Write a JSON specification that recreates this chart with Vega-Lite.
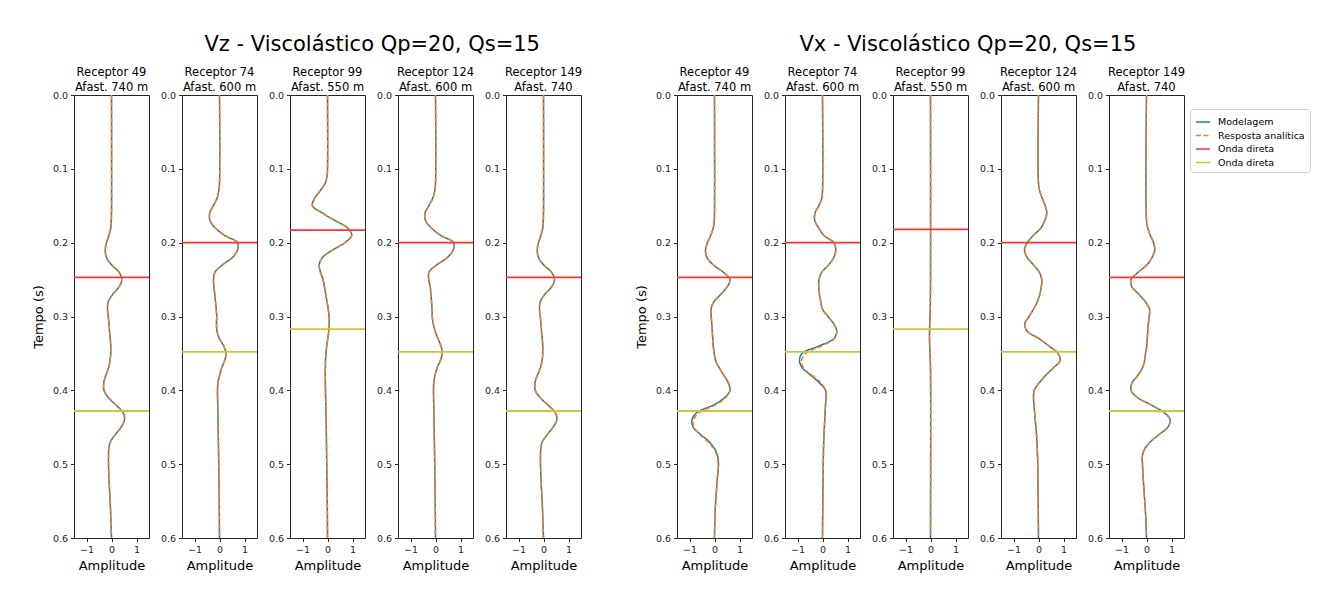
{
"$schema": "https://vega.github.io/schema/vega-lite/v6.json",
"background": "white",
"padding": {"left": 31, "top": 34, "right": 0, "bottom": 0},
"config": {
 "font": "DejaVu Sans",
 "view": {"stroke": "#262626", "strokeWidth": 1},
 "axis": {"grid": false, "domain": false, "labelFontSize": 9.5, "labelColor": "#262626", "tickColor": "#262626", "tickSize": 3.5, "labelPadding": 3, "titleFontSize": 13, "titleFontWeight": "normal", "titleColor": "#000", "labelFont": "DejaVu Sans", "titleFont": "DejaVu Sans", "labelFlush": false, "labelOverlap": false},
 "axisX": {"titlePadding": 5},
 "axisY": {"titlePadding": 7},
 "title": {"font": "DejaVu Sans", "fontSize": 11.5, "fontWeight": "normal", "color": "#000", "offset": -3, "lineHeight": 15},
 "legend": {"title": null, "symbolType": "stroke", "symbolSize": 200, "symbolStrokeWidth": 1.5, "labelFontSize": 9.5, "labelFont": "DejaVu Sans", "labelColor": "#000", "strokeColor": "#d0d0d0", "padding": 5, "cornerRadius": 3, "rowPadding": 0.5, "labelOffset": 7, "fillColor": "white"}
},
"datasets": {
 "ln": [
  {"f":"Vz","p":1,"t":0.247,"k":"p"},{"f":"Vz","p":1,"t":0.428,"k":"s"},
  {"f":"Vz","p":2,"t":0.2,"k":"p"},{"f":"Vz","p":2,"t":0.348,"k":"s"},
  {"f":"Vz","p":3,"t":0.183,"k":"p"},{"f":"Vz","p":3,"t":0.317,"k":"s"},
  {"f":"Vz","p":4,"t":0.2,"k":"p"},{"f":"Vz","p":4,"t":0.348,"k":"s"},
  {"f":"Vz","p":5,"t":0.247,"k":"p"},{"f":"Vz","p":5,"t":0.428,"k":"s"},
  {"f":"Vx","p":1,"t":0.247,"k":"p"},{"f":"Vx","p":1,"t":0.428,"k":"s"},
  {"f":"Vx","p":2,"t":0.2,"k":"p"},{"f":"Vx","p":2,"t":0.348,"k":"s"},
  {"f":"Vx","p":3,"t":0.182,"k":"p"},{"f":"Vx","p":3,"t":0.317,"k":"s"},
  {"f":"Vx","p":4,"t":0.2,"k":"p"},{"f":"Vx","p":4,"t":0.348,"k":"s"},
  {"f":"Vx","p":5,"t":0.247,"k":"p"},{"f":"Vx","p":5,"t":0.428,"k":"s"}
 ],
 "tr": [
  {"f":"Vz","p":1,"t":0,"m":0,"a":0},{"f":"Vz","p":1,"t":0.16,"m":0,"a":0},{"f":"Vz","p":1,"t":0.17,"m":-0.01,"a":-0.01},{"f":"Vz","p":1,"t":0.18,"m":-0.03,"a":-0.03},{"f":"Vz","p":1,"t":0.19,"m":-0.1,"a":-0.1},{"f":"Vz","p":1,"t":0.2,"m":-0.2,"a":-0.2},{"f":"Vz","p":1,"t":0.21,"m":-0.25,"a":-0.25},{"f":"Vz","p":1,"t":0.22,"m":-0.2,"a":-0.2},{"f":"Vz","p":1,"t":0.23,"m":0,"a":0},{"f":"Vz","p":1,"t":0.24,"m":0.3,"a":0.3},{"f":"Vz","p":1,"t":0.25,"m":0.41,"a":0.41},{"f":"Vz","p":1,"t":0.26,"m":0.3,"a":0.3},{"f":"Vz","p":1,"t":0.27,"m":0.05,"a":0.05},{"f":"Vz","p":1,"t":0.28,"m":-0.13,"a":-0.13},{"f":"Vz","p":1,"t":0.29,"m":-0.16,"a":-0.16},{"f":"Vz","p":1,"t":0.3,"m":-0.13,"a":-0.13},{"f":"Vz","p":1,"t":0.31,"m":-0.1,"a":-0.1},{"f":"Vz","p":1,"t":0.32,"m":-0.08,"a":-0.08},{"f":"Vz","p":1,"t":0.33,"m":-0.05,"a":-0.05},{"f":"Vz","p":1,"t":0.34,"m":-0.03,"a":-0.03},{"f":"Vz","p":1,"t":0.35,"m":-0.03,"a":-0.03},{"f":"Vz","p":1,"t":0.36,"m":-0.06,"a":-0.06},{"f":"Vz","p":1,"t":0.37,"m":-0.12,"a":-0.12},{"f":"Vz","p":1,"t":0.38,"m":-0.23,"a":-0.23},{"f":"Vz","p":1,"t":0.39,"m":-0.31,"a":-0.31},{"f":"Vz","p":1,"t":0.4,"m":-0.3,"a":-0.3},{"f":"Vz","p":1,"t":0.41,"m":-0.12,"a":-0.12},{"f":"Vz","p":1,"t":0.42,"m":0.18,"a":0.18},{"f":"Vz","p":1,"t":0.43,"m":0.46,"a":0.46},{"f":"Vz","p":1,"t":0.44,"m":0.52,"a":0.52},{"f":"Vz","p":1,"t":0.45,"m":0.38,"a":0.38},{"f":"Vz","p":1,"t":0.46,"m":0.15,"a":0.15},{"f":"Vz","p":1,"t":0.47,"m":-0.05,"a":-0.05},{"f":"Vz","p":1,"t":0.48,"m":-0.11,"a":-0.11},{"f":"Vz","p":1,"t":0.49,"m":-0.12,"a":-0.12},{"f":"Vz","p":1,"t":0.5,"m":-0.12,"a":-0.12},{"f":"Vz","p":1,"t":0.52,"m":-0.1,"a":-0.1},{"f":"Vz","p":1,"t":0.54,"m":-0.07,"a":-0.07},{"f":"Vz","p":1,"t":0.56,"m":-0.04,"a":-0.04},{"f":"Vz","p":1,"t":0.58,"m":-0.02,"a":-0.02},{"f":"Vz","p":1,"t":0.6,"m":0,"a":0},

  {"f":"Vz","p":5,"t":0,"m":0,"a":0},{"f":"Vz","p":5,"t":0.16,"m":0,"a":0},{"f":"Vz","p":5,"t":0.17,"m":-0.01,"a":-0.01},{"f":"Vz","p":5,"t":0.18,"m":-0.03,"a":-0.03},{"f":"Vz","p":5,"t":0.19,"m":-0.1,"a":-0.1},{"f":"Vz","p":5,"t":0.2,"m":-0.2,"a":-0.2},{"f":"Vz","p":5,"t":0.21,"m":-0.25,"a":-0.25},{"f":"Vz","p":5,"t":0.22,"m":-0.2,"a":-0.2},{"f":"Vz","p":5,"t":0.23,"m":0,"a":0},{"f":"Vz","p":5,"t":0.24,"m":0.32,"a":0.32},{"f":"Vz","p":5,"t":0.25,"m":0.44,"a":0.44},{"f":"Vz","p":5,"t":0.26,"m":0.32,"a":0.32},{"f":"Vz","p":5,"t":0.27,"m":0.05,"a":0.05},{"f":"Vz","p":5,"t":0.28,"m":-0.13,"a":-0.13},{"f":"Vz","p":5,"t":0.29,"m":-0.16,"a":-0.16},{"f":"Vz","p":5,"t":0.3,"m":-0.13,"a":-0.13},{"f":"Vz","p":5,"t":0.31,"m":-0.1,"a":-0.1},{"f":"Vz","p":5,"t":0.32,"m":-0.08,"a":-0.08},{"f":"Vz","p":5,"t":0.33,"m":-0.05,"a":-0.05},{"f":"Vz","p":5,"t":0.34,"m":-0.03,"a":-0.03},{"f":"Vz","p":5,"t":0.35,"m":-0.03,"a":-0.03},{"f":"Vz","p":5,"t":0.36,"m":-0.06,"a":-0.06},{"f":"Vz","p":5,"t":0.37,"m":-0.13,"a":-0.13},{"f":"Vz","p":5,"t":0.38,"m":-0.25,"a":-0.25},{"f":"Vz","p":5,"t":0.39,"m":-0.34,"a":-0.34},{"f":"Vz","p":5,"t":0.4,"m":-0.33,"a":-0.33},{"f":"Vz","p":5,"t":0.41,"m":-0.13,"a":-0.13},{"f":"Vz","p":5,"t":0.42,"m":0.18,"a":0.18},{"f":"Vz","p":5,"t":0.43,"m":0.47,"a":0.47},{"f":"Vz","p":5,"t":0.44,"m":0.53,"a":0.53},{"f":"Vz","p":5,"t":0.45,"m":0.38,"a":0.38},{"f":"Vz","p":5,"t":0.46,"m":0.15,"a":0.15},{"f":"Vz","p":5,"t":0.47,"m":-0.05,"a":-0.05},{"f":"Vz","p":5,"t":0.48,"m":-0.11,"a":-0.11},{"f":"Vz","p":5,"t":0.49,"m":-0.12,"a":-0.12},{"f":"Vz","p":5,"t":0.5,"m":-0.12,"a":-0.12},{"f":"Vz","p":5,"t":0.52,"m":-0.1,"a":-0.1},{"f":"Vz","p":5,"t":0.54,"m":-0.07,"a":-0.07},{"f":"Vz","p":5,"t":0.56,"m":-0.04,"a":-0.04},{"f":"Vz","p":5,"t":0.58,"m":-0.02,"a":-0.02},{"f":"Vz","p":5,"t":0.6,"m":0,"a":0},

  {"f":"Vz","p":2,"t":0,"m":0,"a":0},{"f":"Vz","p":2,"t":0.12,"m":0,"a":0},{"f":"Vz","p":2,"t":0.13,"m":-0.03,"a":-0.03},{"f":"Vz","p":2,"t":0.14,"m":-0.1,"a":-0.1},{"f":"Vz","p":2,"t":0.15,"m":-0.25,"a":-0.25},{"f":"Vz","p":2,"t":0.16,"m":-0.39,"a":-0.39},{"f":"Vz","p":2,"t":0.17,"m":-0.38,"a":-0.38},{"f":"Vz","p":2,"t":0.18,"m":-0.17,"a":-0.17},{"f":"Vz","p":2,"t":0.19,"m":0.2,"a":0.2},{"f":"Vz","p":2,"t":0.2,"m":0.72,"a":0.72},{"f":"Vz","p":2,"t":0.21,"m":0.72,"a":0.72},{"f":"Vz","p":2,"t":0.22,"m":0.52,"a":0.52},{"f":"Vz","p":2,"t":0.23,"m":0.12,"a":0.12},{"f":"Vz","p":2,"t":0.24,"m":-0.18,"a":-0.18},{"f":"Vz","p":2,"t":0.25,"m":-0.24,"a":-0.24},{"f":"Vz","p":2,"t":0.26,"m":-0.22,"a":-0.22},{"f":"Vz","p":2,"t":0.27,"m":-0.19,"a":-0.19},{"f":"Vz","p":2,"t":0.28,"m":-0.16,"a":-0.16},{"f":"Vz","p":2,"t":0.29,"m":-0.13,"a":-0.13},{"f":"Vz","p":2,"t":0.3,"m":-0.11,"a":-0.11},{"f":"Vz","p":2,"t":0.31,"m":-0.12,"a":-0.12},{"f":"Vz","p":2,"t":0.32,"m":-0.1,"a":-0.1},{"f":"Vz","p":2,"t":0.33,"m":0,"a":0},{"f":"Vz","p":2,"t":0.34,"m":0.17,"a":0.17},{"f":"Vz","p":2,"t":0.35,"m":0.26,"a":0.26},{"f":"Vz","p":2,"t":0.36,"m":0.2,"a":0.2},{"f":"Vz","p":2,"t":0.37,"m":0.08,"a":0.08},{"f":"Vz","p":2,"t":0.38,"m":0,"a":0},{"f":"Vz","p":2,"t":0.39,"m":-0.06,"a":-0.06},{"f":"Vz","p":2,"t":0.4,"m":-0.08,"a":-0.08},{"f":"Vz","p":2,"t":0.42,"m":-0.07,"a":-0.07},{"f":"Vz","p":2,"t":0.44,"m":-0.06,"a":-0.06},{"f":"Vz","p":2,"t":0.46,"m":-0.05,"a":-0.05},{"f":"Vz","p":2,"t":0.48,"m":-0.04,"a":-0.04},{"f":"Vz","p":2,"t":0.5,"m":-0.03,"a":-0.03},{"f":"Vz","p":2,"t":0.53,"m":-0.02,"a":-0.02},{"f":"Vz","p":2,"t":0.56,"m":-0.01,"a":-0.01},{"f":"Vz","p":2,"t":0.6,"m":0,"a":0},

  {"f":"Vz","p":4,"t":0,"m":0,"a":0},{"f":"Vz","p":4,"t":0.12,"m":0,"a":0},{"f":"Vz","p":4,"t":0.13,"m":-0.03,"a":-0.03},{"f":"Vz","p":4,"t":0.14,"m":-0.11,"a":-0.11},{"f":"Vz","p":4,"t":0.15,"m":-0.27,"a":-0.27},{"f":"Vz","p":4,"t":0.16,"m":-0.42,"a":-0.42},{"f":"Vz","p":4,"t":0.17,"m":-0.4,"a":-0.4},{"f":"Vz","p":4,"t":0.18,"m":-0.17,"a":-0.17},{"f":"Vz","p":4,"t":0.19,"m":0.2,"a":0.2},{"f":"Vz","p":4,"t":0.2,"m":0.72,"a":0.72},{"f":"Vz","p":4,"t":0.21,"m":0.7,"a":0.7},{"f":"Vz","p":4,"t":0.22,"m":0.48,"a":0.48},{"f":"Vz","p":4,"t":0.23,"m":0.05,"a":0.05},{"f":"Vz","p":4,"t":0.24,"m":-0.26,"a":-0.26},{"f":"Vz","p":4,"t":0.25,"m":-0.27,"a":-0.27},{"f":"Vz","p":4,"t":0.26,"m":-0.21,"a":-0.21},{"f":"Vz","p":4,"t":0.27,"m":-0.18,"a":-0.18},{"f":"Vz","p":4,"t":0.28,"m":-0.16,"a":-0.16},{"f":"Vz","p":4,"t":0.29,"m":-0.14,"a":-0.14},{"f":"Vz","p":4,"t":0.3,"m":-0.13,"a":-0.13},{"f":"Vz","p":4,"t":0.31,"m":-0.09,"a":-0.09},{"f":"Vz","p":4,"t":0.32,"m":-0.01,"a":-0.01},{"f":"Vz","p":4,"t":0.33,"m":0.1,"a":0.1},{"f":"Vz","p":4,"t":0.34,"m":0.22,"a":0.22},{"f":"Vz","p":4,"t":0.35,"m":0.27,"a":0.27},{"f":"Vz","p":4,"t":0.36,"m":0.19,"a":0.19},{"f":"Vz","p":4,"t":0.37,"m":0.06,"a":0.06},{"f":"Vz","p":4,"t":0.38,"m":-0.02,"a":-0.02},{"f":"Vz","p":4,"t":0.39,"m":-0.07,"a":-0.07},{"f":"Vz","p":4,"t":0.4,"m":-0.08,"a":-0.08},{"f":"Vz","p":4,"t":0.42,"m":-0.07,"a":-0.07},{"f":"Vz","p":4,"t":0.44,"m":-0.06,"a":-0.06},{"f":"Vz","p":4,"t":0.46,"m":-0.05,"a":-0.05},{"f":"Vz","p":4,"t":0.48,"m":-0.04,"a":-0.04},{"f":"Vz","p":4,"t":0.5,"m":-0.03,"a":-0.03},{"f":"Vz","p":4,"t":0.53,"m":-0.02,"a":-0.02},{"f":"Vz","p":4,"t":0.56,"m":-0.01,"a":-0.01},{"f":"Vz","p":4,"t":0.6,"m":0,"a":0},

  {"f":"Vz","p":3,"t":0,"m":0,"a":0},{"f":"Vz","p":3,"t":0.1,"m":0,"a":0},{"f":"Vz","p":3,"t":0.11,"m":-0.02,"a":-0.02},{"f":"Vz","p":3,"t":0.12,"m":-0.1,"a":-0.1},{"f":"Vz","p":3,"t":0.13,"m":-0.3,"a":-0.3},{"f":"Vz","p":3,"t":0.14,"m":-0.52,"a":-0.52},{"f":"Vz","p":3,"t":0.15,"m":-0.6,"a":-0.6},{"f":"Vz","p":3,"t":0.16,"m":-0.2,"a":-0.2},{"f":"Vz","p":3,"t":0.17,"m":0.3,"a":0.3},{"f":"Vz","p":3,"t":0.18,"m":0.8,"a":0.8},{"f":"Vz","p":3,"t":0.19,"m":0.97,"a":0.97},{"f":"Vz","p":3,"t":0.2,"m":0.7,"a":0.7},{"f":"Vz","p":3,"t":0.21,"m":0.2,"a":0.2},{"f":"Vz","p":3,"t":0.22,"m":-0.2,"a":-0.2},{"f":"Vz","p":3,"t":0.23,"m":-0.33,"a":-0.33},{"f":"Vz","p":3,"t":0.24,"m":-0.28,"a":-0.28},{"f":"Vz","p":3,"t":0.25,"m":-0.18,"a":-0.18},{"f":"Vz","p":3,"t":0.26,"m":-0.12,"a":-0.12},{"f":"Vz","p":3,"t":0.27,"m":-0.07,"a":-0.07},{"f":"Vz","p":3,"t":0.28,"m":-0.02,"a":-0.02},{"f":"Vz","p":3,"t":0.29,"m":0.03,"a":0.03},{"f":"Vz","p":3,"t":0.3,"m":0.06,"a":0.06},{"f":"Vz","p":3,"t":0.31,"m":0.07,"a":0.07},{"f":"Vz","p":3,"t":0.32,"m":0.05,"a":0.05},{"f":"Vz","p":3,"t":0.33,"m":0.01,"a":0.01},{"f":"Vz","p":3,"t":0.34,"m":-0.03,"a":-0.03},{"f":"Vz","p":3,"t":0.35,"m":-0.06,"a":-0.06},{"f":"Vz","p":3,"t":0.36,"m":-0.08,"a":-0.08},{"f":"Vz","p":3,"t":0.38,"m":-0.09,"a":-0.09},{"f":"Vz","p":3,"t":0.4,"m":-0.08,"a":-0.08},{"f":"Vz","p":3,"t":0.45,"m":-0.05,"a":-0.05},{"f":"Vz","p":3,"t":0.5,"m":-0.03,"a":-0.03},{"f":"Vz","p":3,"t":0.55,"m":-0.01,"a":-0.01},{"f":"Vz","p":3,"t":0.6,"m":0,"a":0},

  {"f":"Vx","p":1,"t":0,"m":0,"a":0},{"f":"Vx","p":1,"t":0.16,"m":0,"a":0},{"f":"Vx","p":1,"t":0.17,"m":-0.01,"a":-0.01},{"f":"Vx","p":1,"t":0.18,"m":-0.05,"a":-0.05},{"f":"Vx","p":1,"t":0.19,"m":-0.15,"a":-0.15},{"f":"Vx","p":1,"t":0.2,"m":-0.28,"a":-0.28},{"f":"Vx","p":1,"t":0.21,"m":-0.36,"a":-0.36},{"f":"Vx","p":1,"t":0.22,"m":-0.3,"a":-0.3},{"f":"Vx","p":1,"t":0.23,"m":-0.05,"a":-0.05},{"f":"Vx","p":1,"t":0.24,"m":0.35,"a":0.35},{"f":"Vx","p":1,"t":0.25,"m":0.62,"a":0.62},{"f":"Vx","p":1,"t":0.26,"m":0.5,"a":0.5},{"f":"Vx","p":1,"t":0.27,"m":0.25,"a":0.25},{"f":"Vx","p":1,"t":0.28,"m":-0.02,"a":-0.02},{"f":"Vx","p":1,"t":0.29,"m":-0.14,"a":-0.14},{"f":"Vx","p":1,"t":0.3,"m":-0.13,"a":-0.13},{"f":"Vx","p":1,"t":0.31,"m":-0.11,"a":-0.11},{"f":"Vx","p":1,"t":0.32,"m":-0.09,"a":-0.09},{"f":"Vx","p":1,"t":0.33,"m":-0.07,"a":-0.07},{"f":"Vx","p":1,"t":0.34,"m":-0.05,"a":-0.05},{"f":"Vx","p":1,"t":0.35,"m":-0.01,"a":-0.01},{"f":"Vx","p":1,"t":0.36,"m":0.05,"a":0.05},{"f":"Vx","p":1,"t":0.37,"m":0.2,"a":0.2},{"f":"Vx","p":1,"t":0.38,"m":0.38,"a":0.38},{"f":"Vx","p":1,"t":0.39,"m":0.55,"a":0.57},{"f":"Vx","p":1,"t":0.4,"m":0.62,"a":0.62},{"f":"Vx","p":1,"t":0.41,"m":0.4,"a":0.44},{"f":"Vx","p":1,"t":0.42,"m":-0.05,"a":0.03},{"f":"Vx","p":1,"t":0.43,"m":-0.7,"a":-0.6},{"f":"Vx","p":1,"t":0.44,"m":-0.9,"a":-0.84},{"f":"Vx","p":1,"t":0.45,"m":-0.85,"a":-0.82},{"f":"Vx","p":1,"t":0.46,"m":-0.55,"a":-0.58},{"f":"Vx","p":1,"t":0.47,"m":-0.2,"a":-0.25},{"f":"Vx","p":1,"t":0.48,"m":0.02,"a":-0.01},{"f":"Vx","p":1,"t":0.49,"m":0.13,"a":0.11},{"f":"Vx","p":1,"t":0.5,"m":0.16,"a":0.15},{"f":"Vx","p":1,"t":0.51,"m":0.14,"a":0.14},{"f":"Vx","p":1,"t":0.52,"m":0.11,"a":0.11},{"f":"Vx","p":1,"t":0.54,"m":0.07,"a":0.07},{"f":"Vx","p":1,"t":0.56,"m":0.03,"a":0.03},{"f":"Vx","p":1,"t":0.58,"m":0.01,"a":0.01},{"f":"Vx","p":1,"t":0.6,"m":0,"a":0},

  {"f":"Vx","p":2,"t":0,"m":0,"a":0},{"f":"Vx","p":2,"t":0.13,"m":0,"a":0},{"f":"Vx","p":2,"t":0.14,"m":-0.03,"a":-0.03},{"f":"Vx","p":2,"t":0.15,"m":-0.15,"a":-0.15},{"f":"Vx","p":2,"t":0.16,"m":-0.3,"a":-0.3},{"f":"Vx","p":2,"t":0.17,"m":-0.31,"a":-0.31},{"f":"Vx","p":2,"t":0.18,"m":-0.15,"a":-0.15},{"f":"Vx","p":2,"t":0.19,"m":0.05,"a":0.05},{"f":"Vx","p":2,"t":0.2,"m":0.45,"a":0.45},{"f":"Vx","p":2,"t":0.21,"m":0.53,"a":0.53},{"f":"Vx","p":2,"t":0.22,"m":0.45,"a":0.45},{"f":"Vx","p":2,"t":0.23,"m":0.25,"a":0.25},{"f":"Vx","p":2,"t":0.24,"m":-0.03,"a":-0.03},{"f":"Vx","p":2,"t":0.25,"m":-0.14,"a":-0.14},{"f":"Vx","p":2,"t":0.26,"m":-0.15,"a":-0.15},{"f":"Vx","p":2,"t":0.27,"m":-0.12,"a":-0.12},{"f":"Vx","p":2,"t":0.28,"m":-0.07,"a":-0.07},{"f":"Vx","p":2,"t":0.29,"m":0,"a":0},{"f":"Vx","p":2,"t":0.3,"m":0.22,"a":0.22},{"f":"Vx","p":2,"t":0.31,"m":0.45,"a":0.45},{"f":"Vx","p":2,"t":0.32,"m":0.57,"a":0.57},{"f":"Vx","p":2,"t":0.33,"m":0.45,"a":0.47},{"f":"Vx","p":2,"t":0.34,"m":-0.15,"a":-0.05},{"f":"Vx","p":2,"t":0.35,"m":-0.82,"a":-0.68},{"f":"Vx","p":2,"t":0.36,"m":-0.92,"a":-0.84},{"f":"Vx","p":2,"t":0.37,"m":-0.8,"a":-0.76},{"f":"Vx","p":2,"t":0.38,"m":-0.45,"a":-0.4},{"f":"Vx","p":2,"t":0.39,"m":-0.12,"a":-0.06},{"f":"Vx","p":2,"t":0.4,"m":0.12,"a":0.13},{"f":"Vx","p":2,"t":0.41,"m":0.14,"a":0.15},{"f":"Vx","p":2,"t":0.42,"m":0.12,"a":0.12},{"f":"Vx","p":2,"t":0.44,"m":0.09,"a":0.09},{"f":"Vx","p":2,"t":0.46,"m":0.06,"a":0.06},{"f":"Vx","p":2,"t":0.48,"m":0.04,"a":0.04},{"f":"Vx","p":2,"t":0.5,"m":0.03,"a":0.03},{"f":"Vx","p":2,"t":0.53,"m":0.02,"a":0.02},{"f":"Vx","p":2,"t":0.56,"m":0.01,"a":0.01},{"f":"Vx","p":2,"t":0.6,"m":0,"a":0},

  {"f":"Vx","p":3,"t":0,"m":0,"a":0},{"f":"Vx","p":3,"t":0.26,"m":0,"a":0},{"f":"Vx","p":3,"t":0.29,"m":-0.01,"a":-0.01},{"f":"Vx","p":3,"t":0.31,"m":-0.03,"a":-0.03},{"f":"Vx","p":3,"t":0.33,"m":-0.04,"a":-0.04},{"f":"Vx","p":3,"t":0.35,"m":-0.02,"a":-0.02},{"f":"Vx","p":3,"t":0.37,"m":0,"a":0},{"f":"Vx","p":3,"t":0.6,"m":0,"a":0},

  {"f":"Vx","p":4,"t":0,"m":0,"a":0},{"f":"Vx","p":4,"t":0.12,"m":0,"a":0},{"f":"Vx","p":4,"t":0.13,"m":0.05,"a":0.05},{"f":"Vx","p":4,"t":0.14,"m":0.15,"a":0.15},{"f":"Vx","p":4,"t":0.15,"m":0.27,"a":0.27},{"f":"Vx","p":4,"t":0.16,"m":0.33,"a":0.33},{"f":"Vx","p":4,"t":0.17,"m":0.25,"a":0.25},{"f":"Vx","p":4,"t":0.18,"m":0.1,"a":0.1},{"f":"Vx","p":4,"t":0.19,"m":-0.2,"a":-0.2},{"f":"Vx","p":4,"t":0.2,"m":-0.45,"a":-0.45},{"f":"Vx","p":4,"t":0.21,"m":-0.56,"a":-0.56},{"f":"Vx","p":4,"t":0.22,"m":-0.45,"a":-0.45},{"f":"Vx","p":4,"t":0.23,"m":-0.2,"a":-0.2},{"f":"Vx","p":4,"t":0.24,"m":0.03,"a":0.03},{"f":"Vx","p":4,"t":0.25,"m":0.13,"a":0.13},{"f":"Vx","p":4,"t":0.26,"m":0.11,"a":0.11},{"f":"Vx","p":4,"t":0.27,"m":0.05,"a":0.05},{"f":"Vx","p":4,"t":0.28,"m":-0.05,"a":-0.05},{"f":"Vx","p":4,"t":0.29,"m":-0.2,"a":-0.2},{"f":"Vx","p":4,"t":0.3,"m":-0.38,"a":-0.38},{"f":"Vx","p":4,"t":0.31,"m":-0.55,"a":-0.55},{"f":"Vx","p":4,"t":0.32,"m":-0.45,"a":-0.45},{"f":"Vx","p":4,"t":0.33,"m":0.02,"a":0.02},{"f":"Vx","p":4,"t":0.34,"m":0.42,"a":0.42},{"f":"Vx","p":4,"t":0.35,"m":0.78,"a":0.78},{"f":"Vx","p":4,"t":0.36,"m":0.86,"a":0.86},{"f":"Vx","p":4,"t":0.37,"m":0.58,"a":0.58},{"f":"Vx","p":4,"t":0.38,"m":0.28,"a":0.28},{"f":"Vx","p":4,"t":0.39,"m":0.02,"a":0.02},{"f":"Vx","p":4,"t":0.4,"m":-0.17,"a":-0.17},{"f":"Vx","p":4,"t":0.41,"m":-0.2,"a":-0.2},{"f":"Vx","p":4,"t":0.42,"m":-0.18,"a":-0.18},{"f":"Vx","p":4,"t":0.44,"m":-0.13,"a":-0.13},{"f":"Vx","p":4,"t":0.46,"m":-0.08,"a":-0.08},{"f":"Vx","p":4,"t":0.48,"m":-0.05,"a":-0.05},{"f":"Vx","p":4,"t":0.5,"m":-0.03,"a":-0.03},{"f":"Vx","p":4,"t":0.53,"m":-0.02,"a":-0.02},{"f":"Vx","p":4,"t":0.56,"m":-0.01,"a":-0.01},{"f":"Vx","p":4,"t":0.6,"m":0,"a":0},

  {"f":"Vx","p":5,"t":0,"m":0,"a":0},{"f":"Vx","p":5,"t":0.17,"m":0,"a":0},{"f":"Vx","p":5,"t":0.18,"m":0.05,"a":0.05},{"f":"Vx","p":5,"t":0.19,"m":0.15,"a":0.15},{"f":"Vx","p":5,"t":0.2,"m":0.28,"a":0.28},{"f":"Vx","p":5,"t":0.21,"m":0.33,"a":0.33},{"f":"Vx","p":5,"t":0.22,"m":0.22,"a":0.22},{"f":"Vx","p":5,"t":0.23,"m":0.02,"a":0.02},{"f":"Vx","p":5,"t":0.24,"m":-0.33,"a":-0.33},{"f":"Vx","p":5,"t":0.25,"m":-0.62,"a":-0.62},{"f":"Vx","p":5,"t":0.26,"m":-0.58,"a":-0.58},{"f":"Vx","p":5,"t":0.27,"m":-0.3,"a":-0.3},{"f":"Vx","p":5,"t":0.28,"m":-0.05,"a":-0.05},{"f":"Vx","p":5,"t":0.29,"m":0.12,"a":0.12},{"f":"Vx","p":5,"t":0.3,"m":0.11,"a":0.11},{"f":"Vx","p":5,"t":0.31,"m":0.07,"a":0.07},{"f":"Vx","p":5,"t":0.32,"m":0.05,"a":0.05},{"f":"Vx","p":5,"t":0.33,"m":0.03,"a":0.03},{"f":"Vx","p":5,"t":0.34,"m":0.01,"a":0.01},{"f":"Vx","p":5,"t":0.35,"m":-0.04,"a":-0.04},{"f":"Vx","p":5,"t":0.36,"m":-0.08,"a":-0.08},{"f":"Vx","p":5,"t":0.37,"m":-0.17,"a":-0.17},{"f":"Vx","p":5,"t":0.38,"m":-0.35,"a":-0.35},{"f":"Vx","p":5,"t":0.39,"m":-0.58,"a":-0.58},{"f":"Vx","p":5,"t":0.4,"m":-0.62,"a":-0.62},{"f":"Vx","p":5,"t":0.41,"m":-0.35,"a":-0.35},{"f":"Vx","p":5,"t":0.42,"m":0.2,"a":0.2},{"f":"Vx","p":5,"t":0.43,"m":0.7,"a":0.7},{"f":"Vx","p":5,"t":0.44,"m":0.95,"a":0.95},{"f":"Vx","p":5,"t":0.45,"m":0.85,"a":0.85},{"f":"Vx","p":5,"t":0.46,"m":0.5,"a":0.5},{"f":"Vx","p":5,"t":0.47,"m":0.15,"a":0.15},{"f":"Vx","p":5,"t":0.48,"m":-0.08,"a":-0.08},{"f":"Vx","p":5,"t":0.49,"m":-0.17,"a":-0.17},{"f":"Vx","p":5,"t":0.5,"m":-0.16,"a":-0.16},{"f":"Vx","p":5,"t":0.52,"m":-0.13,"a":-0.13},{"f":"Vx","p":5,"t":0.54,"m":-0.09,"a":-0.09},{"f":"Vx","p":5,"t":0.56,"m":-0.05,"a":-0.05},{"f":"Vx","p":5,"t":0.58,"m":-0.02,"a":-0.02},{"f":"Vx","p":5,"t":0.6,"m":0,"a":0}
 ]
},
"resolve": {"scale": {"color": "independent", "strokeDash": "independent"}, "legend": {"color": "independent", "strokeDash": "independent"}},
"spacing": 51,
"hconcat": [
 {
  "title": {"text": "Vz - Viscolástico Qp=20, Qs=15", "fontSize": 21, "dx": 65, "offset": 11, "anchor": "middle"},
  "spacing": 8,
  "resolve": {"scale": {"color": "independent", "strokeDash": "independent"}, "legend": {"color": "independent", "strokeDash": "independent"}},
  "hconcat": [
   {"width": 75, "height": 443, "title": {"text": ["Receptor 49", " Afast. 740 m"]},
    "layer": [
     {"data": {"name": "tr"}, "transform": [{"filter": "datum.f=='Vz' && datum.p==1"}, {"fold": ["m", "a"], "as": ["k", "amp"]}],
      "mark": {"type": "line", "strokeWidth": 1.5, "interpolate": "catmull-rom"},
      "encoding": {
       "x": {"field": "amp", "type": "quantitative", "scale": {"domain": [-1.5, 1.5], "nice": false, "zero": false}, "axis": {"values": [-1, 0, 1], "format": "d", "title": "Amplitude"}},
       "y": {"field": "t", "type": "quantitative", "scale": {"domain": [0, 0.6], "reverse": true, "nice": false}, "axis": {"values": [0, 0.1, 0.2, 0.3, 0.4, 0.5, 0.6], "format": ".1f", "title": "Tempo (s)"}},
       "color": {"field": "k", "type": "nominal", "scale": {"domain": ["m", "a", "p", "s"], "range": ["#1f77b4", "#ff7f0e", "#ff3333", "#c8c83c"]}, "legend": null},
       "strokeDash": {"field": "k", "type": "nominal", "scale": {"domain": ["m", "a", "p", "s"], "range": [[1, 0], [5, 2.5], [1, 0], [1, 0]]}, "legend": null},
       "order": {"field": "t", "type": "quantitative"}}},
     {"data": {"name": "ln"}, "transform": [{"filter": "datum.f=='Vz' && datum.p==1"}],
      "mark": {"type": "rule", "strokeWidth": 1.8},
      "encoding": {"y": {"field": "t", "type": "quantitative"}, "color": {"field": "k", "type": "nominal", "legend": null}}}
    ]},
   {"width": 75, "height": 443, "title": {"text": ["Receptor 74", " Afast. 600 m"]},
    "layer": [
     {"data": {"name": "tr"}, "transform": [{"filter": "datum.f=='Vz' && datum.p==2"}, {"fold": ["m", "a"], "as": ["k", "amp"]}],
      "mark": {"type": "line", "strokeWidth": 1.5, "interpolate": "catmull-rom"},
      "encoding": {
       "x": {"field": "amp", "type": "quantitative", "scale": {"domain": [-1.5, 1.5], "nice": false, "zero": false}, "axis": {"values": [-1, 0, 1], "format": "d", "title": "Amplitude"}},
       "y": {"field": "t", "type": "quantitative", "scale": {"domain": [0, 0.6], "reverse": true, "nice": false}, "axis": {"values": [0, 0.1, 0.2, 0.3, 0.4, 0.5, 0.6], "format": ".1f", "title": null}},
       "color": {"field": "k", "type": "nominal", "scale": {"domain": ["m", "a", "p", "s"], "range": ["#1f77b4", "#ff7f0e", "#ff3333", "#c8c83c"]}, "legend": null},
       "strokeDash": {"field": "k", "type": "nominal", "scale": {"domain": ["m", "a", "p", "s"], "range": [[1, 0], [5, 2.5], [1, 0], [1, 0]]}, "legend": null},
       "order": {"field": "t", "type": "quantitative"}}},
     {"data": {"name": "ln"}, "transform": [{"filter": "datum.f=='Vz' && datum.p==2"}],
      "mark": {"type": "rule", "strokeWidth": 1.8},
      "encoding": {"y": {"field": "t", "type": "quantitative"}, "color": {"field": "k", "type": "nominal", "legend": null}}}
    ]},
   {"width": 75, "height": 443, "title": {"text": ["Receptor 99", " Afast. 550 m"]},
    "layer": [
     {"data": {"name": "tr"}, "transform": [{"filter": "datum.f=='Vz' && datum.p==3"}, {"fold": ["m", "a"], "as": ["k", "amp"]}],
      "mark": {"type": "line", "strokeWidth": 1.5, "interpolate": "catmull-rom"},
      "encoding": {
       "x": {"field": "amp", "type": "quantitative", "scale": {"domain": [-1.5, 1.5], "nice": false, "zero": false}, "axis": {"values": [-1, 0, 1], "format": "d", "title": "Amplitude"}},
       "y": {"field": "t", "type": "quantitative", "scale": {"domain": [0, 0.6], "reverse": true, "nice": false}, "axis": {"values": [0, 0.1, 0.2, 0.3, 0.4, 0.5, 0.6], "format": ".1f", "title": null}},
       "color": {"field": "k", "type": "nominal", "scale": {"domain": ["m", "a", "p", "s"], "range": ["#1f77b4", "#ff7f0e", "#ff3333", "#c8c83c"]}, "legend": null},
       "strokeDash": {"field": "k", "type": "nominal", "scale": {"domain": ["m", "a", "p", "s"], "range": [[1, 0], [5, 2.5], [1, 0], [1, 0]]}, "legend": null},
       "order": {"field": "t", "type": "quantitative"}}},
     {"data": {"name": "ln"}, "transform": [{"filter": "datum.f=='Vz' && datum.p==3"}],
      "mark": {"type": "rule", "strokeWidth": 1.8},
      "encoding": {"y": {"field": "t", "type": "quantitative"}, "color": {"field": "k", "type": "nominal", "legend": null}}}
    ]},
   {"width": 75, "height": 443, "title": {"text": ["Receptor 124", " Afast. 600 m"]},
    "layer": [
     {"data": {"name": "tr"}, "transform": [{"filter": "datum.f=='Vz' && datum.p==4"}, {"fold": ["m", "a"], "as": ["k", "amp"]}],
      "mark": {"type": "line", "strokeWidth": 1.5, "interpolate": "catmull-rom"},
      "encoding": {
       "x": {"field": "amp", "type": "quantitative", "scale": {"domain": [-1.5, 1.5], "nice": false, "zero": false}, "axis": {"values": [-1, 0, 1], "format": "d", "title": "Amplitude"}},
       "y": {"field": "t", "type": "quantitative", "scale": {"domain": [0, 0.6], "reverse": true, "nice": false}, "axis": {"values": [0, 0.1, 0.2, 0.3, 0.4, 0.5, 0.6], "format": ".1f", "title": null}},
       "color": {"field": "k", "type": "nominal", "scale": {"domain": ["m", "a", "p", "s"], "range": ["#1f77b4", "#ff7f0e", "#ff3333", "#c8c83c"]}, "legend": null},
       "strokeDash": {"field": "k", "type": "nominal", "scale": {"domain": ["m", "a", "p", "s"], "range": [[1, 0], [5, 2.5], [1, 0], [1, 0]]}, "legend": null},
       "order": {"field": "t", "type": "quantitative"}}},
     {"data": {"name": "ln"}, "transform": [{"filter": "datum.f=='Vz' && datum.p==4"}],
      "mark": {"type": "rule", "strokeWidth": 1.8},
      "encoding": {"y": {"field": "t", "type": "quantitative"}, "color": {"field": "k", "type": "nominal", "legend": null}}}
    ]},
   {"width": 75, "height": 443, "title": {"text": ["Receptor 149", " Afast. 740"]},
    "layer": [
     {"data": {"name": "tr"}, "transform": [{"filter": "datum.f=='Vz' && datum.p==5"}, {"fold": ["m", "a"], "as": ["k", "amp"]}],
      "mark": {"type": "line", "strokeWidth": 1.5, "interpolate": "catmull-rom"},
      "encoding": {
       "x": {"field": "amp", "type": "quantitative", "scale": {"domain": [-1.5, 1.5], "nice": false, "zero": false}, "axis": {"values": [-1, 0, 1], "format": "d", "title": "Amplitude"}},
       "y": {"field": "t", "type": "quantitative", "scale": {"domain": [0, 0.6], "reverse": true, "nice": false}, "axis": {"values": [0, 0.1, 0.2, 0.3, 0.4, 0.5, 0.6], "format": ".1f", "title": null}},
       "color": {"field": "k", "type": "nominal", "scale": {"domain": ["m", "a", "p", "s"], "range": ["#1f77b4", "#ff7f0e", "#ff3333", "#c8c83c"]}, "legend": null},
       "strokeDash": {"field": "k", "type": "nominal", "scale": {"domain": ["m", "a", "p", "s"], "range": [[1, 0], [5, 2.5], [1, 0], [1, 0]]}, "legend": null},
       "order": {"field": "t", "type": "quantitative"}}},
     {"data": {"name": "ln"}, "transform": [{"filter": "datum.f=='Vz' && datum.p==5"}],
      "mark": {"type": "rule", "strokeWidth": 1.8},
      "encoding": {"y": {"field": "t", "type": "quantitative"}, "color": {"field": "k", "type": "nominal", "legend": null}}}
    ]}
  ]
 },
 {
  "title": {"text": "Vx - Viscolástico Qp=20, Qs=15", "fontSize": 21, "dx": -5, "offset": 11, "anchor": "middle"},
  "spacing": 8,
  "resolve": {"scale": {"color": "independent", "strokeDash": "independent"}, "legend": {"color": "independent", "strokeDash": "independent"}},
  "hconcat": [
   {"width": 75, "height": 443, "title": {"text": ["Receptor 49", " Afast. 740 m"]},
    "layer": [
     {"data": {"name": "tr"}, "transform": [{"filter": "datum.f=='Vx' && datum.p==1"}, {"fold": ["m", "a"], "as": ["k", "amp"]}],
      "mark": {"type": "line", "strokeWidth": 1.5, "interpolate": "catmull-rom"},
      "encoding": {
       "x": {"field": "amp", "type": "quantitative", "scale": {"domain": [-1.5, 1.5], "nice": false, "zero": false}, "axis": {"values": [-1, 0, 1], "format": "d", "title": "Amplitude"}},
       "y": {"field": "t", "type": "quantitative", "scale": {"domain": [0, 0.6], "reverse": true, "nice": false}, "axis": {"values": [0, 0.1, 0.2, 0.3, 0.4, 0.5, 0.6], "format": ".1f", "title": "Tempo (s)"}},
       "color": {"field": "k", "type": "nominal", "scale": {"domain": ["m", "a", "p", "s"], "range": ["#1f77b4", "#ff7f0e", "#ff3333", "#c8c83c"]}, "legend": null},
       "strokeDash": {"field": "k", "type": "nominal", "scale": {"domain": ["m", "a", "p", "s"], "range": [[1, 0], [5, 2.5], [1, 0], [1, 0]]}, "legend": null},
       "order": {"field": "t", "type": "quantitative"}}},
     {"data": {"name": "ln"}, "transform": [{"filter": "datum.f=='Vx' && datum.p==1"}],
      "mark": {"type": "rule", "strokeWidth": 1.8},
      "encoding": {"y": {"field": "t", "type": "quantitative"}, "color": {"field": "k", "type": "nominal", "legend": null}}}
    ]},
   {"width": 75, "height": 443, "title": {"text": ["Receptor 74", " Afast. 600 m"]},
    "layer": [
     {"data": {"name": "tr"}, "transform": [{"filter": "datum.f=='Vx' && datum.p==2"}, {"fold": ["m", "a"], "as": ["k", "amp"]}],
      "mark": {"type": "line", "strokeWidth": 1.5, "interpolate": "catmull-rom"},
      "encoding": {
       "x": {"field": "amp", "type": "quantitative", "scale": {"domain": [-1.5, 1.5], "nice": false, "zero": false}, "axis": {"values": [-1, 0, 1], "format": "d", "title": "Amplitude"}},
       "y": {"field": "t", "type": "quantitative", "scale": {"domain": [0, 0.6], "reverse": true, "nice": false}, "axis": {"values": [0, 0.1, 0.2, 0.3, 0.4, 0.5, 0.6], "format": ".1f", "title": null}},
       "color": {"field": "k", "type": "nominal", "scale": {"domain": ["m", "a", "p", "s"], "range": ["#1f77b4", "#ff7f0e", "#ff3333", "#c8c83c"]}, "legend": null},
       "strokeDash": {"field": "k", "type": "nominal", "scale": {"domain": ["m", "a", "p", "s"], "range": [[1, 0], [5, 2.5], [1, 0], [1, 0]]}, "legend": null},
       "order": {"field": "t", "type": "quantitative"}}},
     {"data": {"name": "ln"}, "transform": [{"filter": "datum.f=='Vx' && datum.p==2"}],
      "mark": {"type": "rule", "strokeWidth": 1.8},
      "encoding": {"y": {"field": "t", "type": "quantitative"}, "color": {"field": "k", "type": "nominal", "legend": null}}}
    ]},
   {"width": 75, "height": 443, "title": {"text": ["Receptor 99", " Afast. 550 m"]},
    "layer": [
     {"data": {"name": "tr"}, "transform": [{"filter": "datum.f=='Vx' && datum.p==3"}, {"fold": ["m", "a"], "as": ["k", "amp"]}],
      "mark": {"type": "line", "strokeWidth": 1.5, "interpolate": "catmull-rom"},
      "encoding": {
       "x": {"field": "amp", "type": "quantitative", "scale": {"domain": [-1.5, 1.5], "nice": false, "zero": false}, "axis": {"values": [-1, 0, 1], "format": "d", "title": "Amplitude"}},
       "y": {"field": "t", "type": "quantitative", "scale": {"domain": [0, 0.6], "reverse": true, "nice": false}, "axis": {"values": [0, 0.1, 0.2, 0.3, 0.4, 0.5, 0.6], "format": ".1f", "title": null}},
       "color": {"field": "k", "type": "nominal", "scale": {"domain": ["m", "a", "p", "s"], "range": ["#1f77b4", "#ff7f0e", "#ff3333", "#c8c83c"]}, "legend": null},
       "strokeDash": {"field": "k", "type": "nominal", "scale": {"domain": ["m", "a", "p", "s"], "range": [[1, 0], [5, 2.5], [1, 0], [1, 0]]}, "legend": null},
       "order": {"field": "t", "type": "quantitative"}}},
     {"data": {"name": "ln"}, "transform": [{"filter": "datum.f=='Vx' && datum.p==3"}],
      "mark": {"type": "rule", "strokeWidth": 1.8},
      "encoding": {"y": {"field": "t", "type": "quantitative"}, "color": {"field": "k", "type": "nominal", "legend": null}}}
    ]},
   {"width": 75, "height": 443, "title": {"text": ["Receptor 124", " Afast. 600 m"]},
    "layer": [
     {"data": {"name": "tr"}, "transform": [{"filter": "datum.f=='Vx' && datum.p==4"}, {"fold": ["m", "a"], "as": ["k", "amp"]}],
      "mark": {"type": "line", "strokeWidth": 1.5, "interpolate": "catmull-rom"},
      "encoding": {
       "x": {"field": "amp", "type": "quantitative", "scale": {"domain": [-1.5, 1.5], "nice": false, "zero": false}, "axis": {"values": [-1, 0, 1], "format": "d", "title": "Amplitude"}},
       "y": {"field": "t", "type": "quantitative", "scale": {"domain": [0, 0.6], "reverse": true, "nice": false}, "axis": {"values": [0, 0.1, 0.2, 0.3, 0.4, 0.5, 0.6], "format": ".1f", "title": null}},
       "color": {"field": "k", "type": "nominal", "scale": {"domain": ["m", "a", "p", "s"], "range": ["#1f77b4", "#ff7f0e", "#ff3333", "#c8c83c"]}, "legend": null},
       "strokeDash": {"field": "k", "type": "nominal", "scale": {"domain": ["m", "a", "p", "s"], "range": [[1, 0], [5, 2.5], [1, 0], [1, 0]]}, "legend": null},
       "order": {"field": "t", "type": "quantitative"}}},
     {"data": {"name": "ln"}, "transform": [{"filter": "datum.f=='Vx' && datum.p==4"}],
      "mark": {"type": "rule", "strokeWidth": 1.8},
      "encoding": {"y": {"field": "t", "type": "quantitative"}, "color": {"field": "k", "type": "nominal", "legend": null}}}
    ]},
   {"width": 75, "height": 443, "title": {"text": ["Receptor 149", " Afast. 740"]},
    "layer": [
     {"data": {"name": "tr"}, "transform": [{"filter": "datum.f=='Vx' && datum.p==5"}, {"fold": ["m", "a"], "as": ["k", "amp"]}],
      "mark": {"type": "line", "strokeWidth": 1.5, "interpolate": "catmull-rom"},
      "encoding": {
       "x": {"field": "amp", "type": "quantitative", "scale": {"domain": [-1.5, 1.5], "nice": false, "zero": false}, "axis": {"values": [-1, 0, 1], "format": "d", "title": "Amplitude"}},
       "y": {"field": "t", "type": "quantitative", "scale": {"domain": [0, 0.6], "reverse": true, "nice": false}, "axis": {"values": [0, 0.1, 0.2, 0.3, 0.4, 0.5, 0.6], "format": ".1f", "title": null}},
       "color": {"field": "k", "type": "nominal", "scale": {"domain": ["m", "a", "p", "s"], "range": ["#1f77b4", "#ff7f0e", "#ff3333", "#c8c83c"]}, "legend": {"orient": "none", "legendX": 81, "legendY": 14, "labelExpr": "datum.label=='m'?'Modelagem':datum.label=='a'?'Resposta analítica':'Onda direta'"}},
       "strokeDash": {"field": "k", "type": "nominal", "scale": {"domain": ["m", "a", "p", "s"], "range": [[1, 0], [5, 2.5], [1, 0], [1, 0]]}, "legend": {"orient": "none", "legendX": 81, "legendY": 14, "labelExpr": "datum.label=='m'?'Modelagem':datum.label=='a'?'Resposta analítica':'Onda direta'"}},
       "order": {"field": "t", "type": "quantitative"}}},
     {"data": {"name": "ln"}, "transform": [{"filter": "datum.f=='Vx' && datum.p==5"}],
      "mark": {"type": "rule", "strokeWidth": 1.8},
      "encoding": {"y": {"field": "t", "type": "quantitative"}, "color": {"field": "k", "type": "nominal"}}}
    ]}
  ]
 }
]
}
